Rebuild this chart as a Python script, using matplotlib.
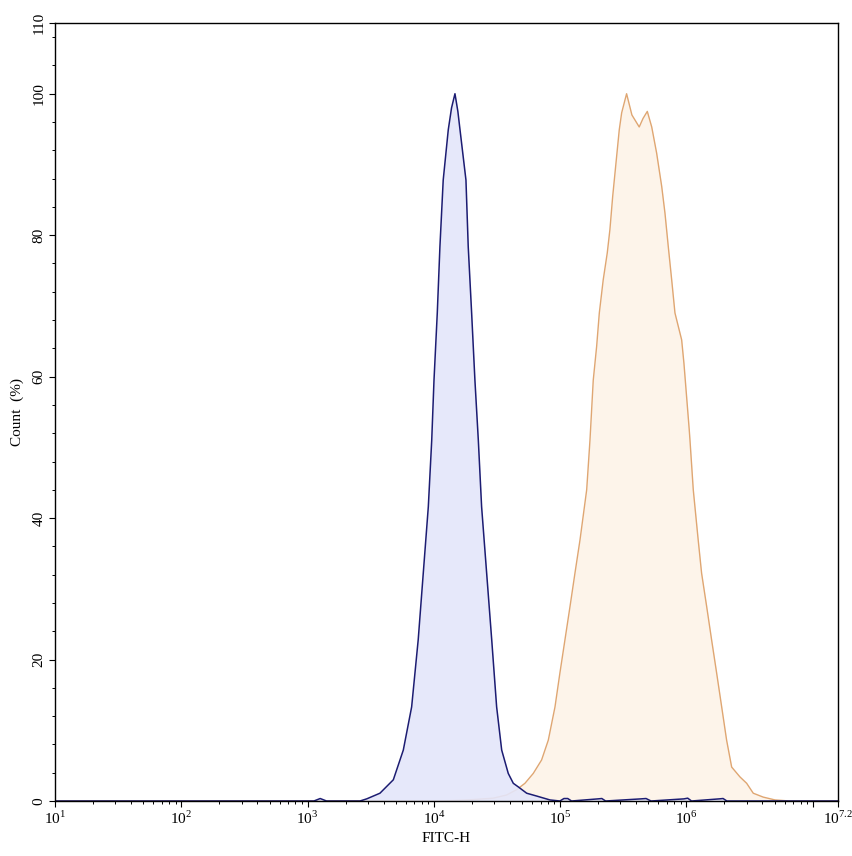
import numpy as np
import matplotlib
matplotlib.use("Agg")
import matplotlib.pyplot as plt
from matplotlib.ticker import FixedLocator, NullFormatter

plt.rcParams['font.family'] = ['Liberation Serif', 'DejaVu Serif']
plt.rcParams['mathtext.fontset'] = 'custom'
plt.rcParams['mathtext.rm'] = 'Liberation Serif'

# control sample (blue), log10 of FITC-H and count %
blue_log = [1.0, 3.05, 3.10, 3.15, 3.415, 3.468, 3.573, 3.679, 3.758, 3.824, 3.876, 3.916,
            3.956, 3.983, 4.001, 4.027, 4.048, 4.074, 4.114, 4.140, 4.167, 4.190,
            4.207, 4.254, 4.272, 4.299, 4.325, 4.352, 4.378, 4.418, 4.458, 4.497,
            4.537, 4.589, 4.629, 4.668, 4.735, 4.814, 4.919, 4.998,
            5.03, 5.06, 5.09, 5.30, 5.33, 5.36, 5.64, 5.68, 5.72, 5.98, 6.01, 6.04,
            6.26, 6.29, 6.32, 7.2]
blue_cnt = [0, 0, 0.35, 0, 0, 0.3, 1.1, 3.0, 7.2, 13.3, 22.8, 32.2,
            41.6, 51.0, 59.5, 69.0, 78.4, 87.8, 94.9, 98.0, 100.0, 97.5,
            94.9, 87.8, 78.4, 69.0, 59.5, 51.0, 41.6, 32.2, 22.8, 13.3,
            7.2, 3.9, 2.5, 2.0, 1.1, 0.7, 0.15, 0,
            0.35, 0.35, 0, 0.3, 0.35, 0, 0.3, 0.35, 0, 0.3, 0.4, 0,
            0.3, 0.35, 0, 0]

# stained sample (orange)
orange_log = [1.0, 4.048, 4.207, 4.310, 4.470, 4.576, 4.655, 4.721, 4.787, 4.853, 4.906,
              4.959, 4.998, 5.038, 5.078, 5.117, 5.157, 5.210, 5.236, 5.262, 5.289,
              5.310, 5.341, 5.373, 5.394, 5.416, 5.442, 5.468, 5.487, 5.526, 5.568,
              5.626, 5.656, 5.690, 5.725, 5.764, 5.804, 5.830, 5.856, 5.883, 5.909,
              5.962, 5.980, 6.001, 6.022, 6.028, 6.054, 6.093, 6.120, 6.160, 6.199,
              6.239, 6.279, 6.318, 6.358, 6.424, 6.477, 6.529, 6.608, 6.701, 6.819, 7.2]
orange_cnt = [0, 0, 0.1, 0.2, 0.4, 0.85, 1.6, 2.5, 3.9, 5.8, 8.6,
              13.3, 18.1, 22.8, 27.5, 32.2, 36.9, 44.0, 51.0, 59.5, 64.3,
              69.0, 73.7, 77.5, 80.8, 85.5, 90.2, 94.9, 97.3, 100.0, 97.0,
              95.3, 96.5, 97.5, 95.3, 91.6, 86.9, 83.1, 78.4, 73.7, 69.0,
              65.2, 61.9, 57.2, 52.5, 51.0, 44.0, 36.9, 32.2, 27.5, 22.8,
              18.1, 13.3, 8.6, 4.8, 3.4, 2.5, 1.1, 0.55, 0.15, 0, 0]

x_major = [1, 2, 3, 4, 5, 6, 7, 7.2]
x_labels = ['$10^{1}$', '$10^{2}$', '$10^{3}$', '$10^{4}$', '$10^{5}$', '$10^{6}$', '', '$10^{7.2}$']
y_major = [0, 20, 40, 60, 80, 100, 110]

fig = plt.figure(figsize=(8.53, 8.56), dpi=100)
ax = fig.add_axes([55 / 853, 55 / 856, 783 / 853, 778 / 856])

bx = 10 ** np.array(blue_log)
ox = 10 ** np.array(orange_log)

ax.fill_between(ox, orange_cnt, 0, color='#fdf4ea', lw=0, zorder=1)
ax.plot(ox, orange_cnt, color='#dfa672', lw=1.0, zorder=2)
ax.fill_between(bx, blue_cnt, 0, color='#e4e6fa', alpha=0.9, lw=0, zorder=3)
ax.plot(bx, blue_cnt, color='#1c1c72', lw=1.1, zorder=4)

ax.set_xscale('log')
ax.set_xlim(10 ** 1, 10 ** 7.2)
ax.set_ylim(0, 110)

ax.xaxis.set_major_locator(FixedLocator([10 ** v for v in x_major]))
ax.set_xticklabels(x_labels)
minors = [m * 10 ** d for d in range(1, 7) for m in range(2, 10)]
ax.xaxis.set_minor_locator(FixedLocator(minors))
ax.xaxis.set_minor_formatter(NullFormatter())

ax.yaxis.set_major_locator(FixedLocator(y_major))
ax.yaxis.set_minor_locator(FixedLocator([v for v in range(0, 111, 4) if v % 20 != 0]))
ax.set_yticklabels([str(v) for v in y_major], rotation=90, va='center')

ax.tick_params(axis='both', which='major', direction='out', length=4, width=0.8,
               labelsize=11, colors='black')
ax.tick_params(axis='both', which='minor', direction='out', length=2.5, width=0.7)
ax.tick_params(axis='x', which='major', pad=2)
ax.tick_params(axis='y', which='major', pad=3)
for s in ax.spines.values():
    s.set_linewidth(1.0)
    s.set_zorder(5)

ax.set_xlabel('FITC-H', fontsize=11, labelpad=4)
ax.set_ylabel('Count  (%)', fontsize=11, labelpad=6)

fig.savefig('out.png', dpi=100)
